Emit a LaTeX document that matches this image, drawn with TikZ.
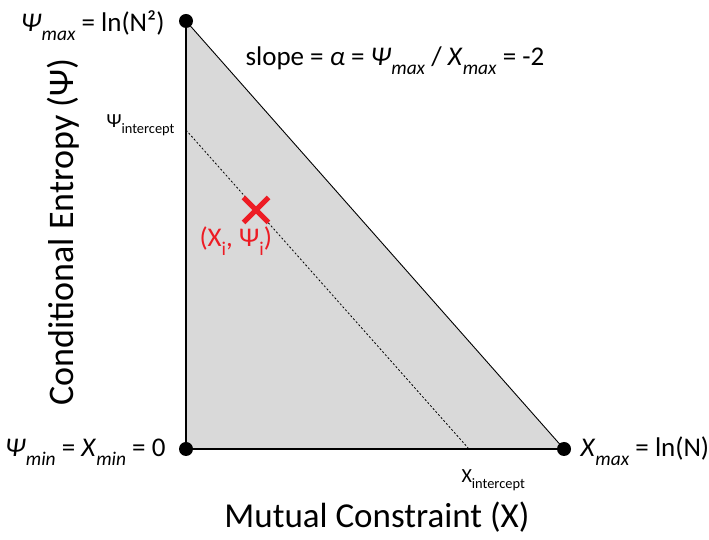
\documentclass[tikz,border=0pt]{standalone}
\usepackage{fontspec}
\setmainfont{Carlito}
\usetikzlibrary{shapes.misc}
\definecolor{myred}{RGB}{237,28,36}
\definecolor{mygray}{RGB}{217,217,217}
\newcommand{\lowsub}[1]{\raisebox{-.3em}{\scalebox{.72}{#1}}}

\begin{document}
\begin{tikzpicture}[x=1pt, y=1pt, font=\fontsize{27}{32}\selectfont,
	dot/.style={circle, fill=black, inner sep=0pt, minimum size=14pt},
	small/.style={font=\fontsize{20}{24}\selectfont},
	axislabel/.style={font=\fontsize{35}{42}\selectfont}]
				%Bildbereich
				\useasboundingbox (0,0) rectangle (709,540);
				% Ecken des Dreiecks
				\coordinate (o) at (186,91);
				\coordinate (ymax) at (186,519);
				\coordinate (xmax) at (564,91);
				\coordinate (psiint) at (186,410);
				\coordinate (xint) at (469,91);
				% Flaeche und Kanten
				\fill[mygray] (o) -- (ymax) -- (xmax) -- cycle;
				\draw[dashed, dash pattern=on 2pt off 2pt, line width=0.8pt] (psiint) -- (xint);
				\draw[line width=0.9pt] (ymax) -- (xmax);
				\draw[line width=1.4pt] (o) -- (xmax);
				\draw[line width=2pt] (o) -- (ymax);
				% Punkte
				\node[dot] (dmin) at (o) {};
				\node[dot] (dymax) at (ymax) {};
				\node[dot] (dxmax) at (xmax) {};
				\node[cross out, draw=myred, line width=5pt, minimum size=20pt, inner sep=0pt] (pi) at (256,330) {};
				% Beschriftung
				\node[anchor=base east] (lymax) at (168,508) {\textit{Ψ}\lowsub{\textit{max}} = ln(N²)};
				\node[anchor=base east] (lmin) at (169,83) {\textit{Ψ}\lowsub{\textit{min}} = \textit{X}\lowsub{\textit{min}} = 0};
				\node[anchor=base west] (lxmax) at (577,83) {\textit{X}\lowsub{\textit{max}} = ln(N)};
				\node[anchor=base west] (lslope) at (242,474) {slope = \textit{α} = \textit{Ψ}\lowsub{\textit{max}} / \textit{X}\lowsub{\textit{max}} = -2};
				\node[small, anchor=base west] (lpsiint) at (103,412) {Ψ\lowsub{intercept}};
				\node[small, anchor=base west] (lxint) at (458,57) {X\lowsub{intercept}};
				\node[myred, anchor=base west] (lpi) at (196,293) {(X\lowsub{i}, Ψ\lowsub{i})};
				% Achsen beschriften
				\node[axislabel, anchor=base] (xlabel) at (377,12) {Mutual Constraint (X)};
				\node[axislabel, anchor=base, rotate=90, font=\fontsize{36}{42}\selectfont] (ylabel) at (73,308) {Conditional Entropy (Ψ)};
		\end{tikzpicture}
\end{document}
